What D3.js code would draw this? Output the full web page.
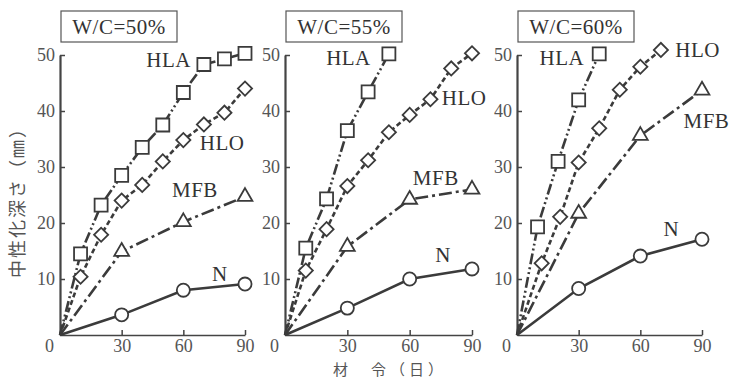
<!DOCTYPE html>
<html>
<head>
<meta charset="utf-8">
<script src="https://cdn.jsdelivr.net/npm/d3@7"></script>
<style>
  body { margin: 0; background: #fff; }
</style>
</head>
<body>
<div id="chart"></div>
<script>
// values: carbonation depth (mm) vs age (days)
var panelTitles = ["W/C=50%", "W/C=55%", "W/C=60%"];
var seriesNames = ["HLA", "HLO", "MFB", "N"];
var yTicks = [10, 20, 30, 40, 50];
var xTicks = [30, 60, 90];

var daysAll = [10, 20, 30, 40, 50, 60, 70, 80, 90];
var daysMonthly = [30, 60, 90];

// W/C = 50%
var hla50 = [14.5, 23.2, 28.5, 33.5, 37.5, 43.3, 48.3, 49.3, 50.3];
var hlo50 = [10.4, 17.9, 24.0, 26.8, 31.0, 34.8, 37.6, 39.7, 44.0];
var mfb50 = [14.9, 20.2, 24.7];
var n50 = [3.6, 8.0, 9.1];

// W/C = 55%
var hla55Days = [10, 20, 30, 40, 50];
var hla55 = [15.5, 24.3, 36.5, 43.4, 50.2];
var hlo55 = [11.5, 18.9, 26.6, 31.2, 36.2, 39.3, 42.1, 47.6, 50.3];
var mfb55 = [15.8, 24.2, 26.0];
var n55 = [4.8, 10.0, 11.8];

// W/C = 60%
var hla60Days = [10, 20, 30, 40];
var hla60 = [19.3, 31.0, 42.0, 50.2];
var hlo60Days = [12, 21, 30, 40, 50, 60, 70];
var hlo60 = [12.8, 21.1, 30.8, 36.9, 43.8, 47.9, 50.9];
var mfb60 = [21.7, 35.6, 43.7];
var n60 = [8.3, 14.1, 17.1];

var panelSeries = [
  [[daysAll, hla50], [daysAll, hlo50], [daysMonthly, mfb50], [daysMonthly, n50]],
  [[hla55Days, hla55], [daysAll, hlo55], [daysMonthly, mfb55], [daysMonthly, n55]],
  [[hla60Days, hla60], [hlo60Days, hlo60], [daysMonthly, mfb60], [daysMonthly, n60]]
];

// layout
var width = 730;
var height = 380;
var panelLeft = [60, 285, 517];
var panelWidth = [185, 187, 185];
var yTop = 55;
var yBottom = 335;

// label anchors (day, depth) for each series name, per panel
var labelAt = [
  [[42, 47.8], [68, 33], [54.5, 24.6], [74, 9.6]],
  [[19.8, 48.3], [75.5, 41], [61.5, 26.8], [72.3, 13.1]],
  [[11, 48.3], [77, 49.7], [81, 36.9], [71.3, 17.6]]
];

var ink = "#3b3b3b";
var serif = "Liberation Serif, DejaVu Serif, serif";
var cjk = "Noto Sans CJK JP, sans-serif";

var dashes = ["11,3,2,3,2,3", "5,3", "13,4,3,4", null];

var svg = d3
  .select("#chart")
  .append("svg")
  .attr("width", width)
  .attr("height", height);

var y = d3.scaleLinear().domain([0, 50]).range([yBottom, yTop]);

var markerSize = [169, 100, 95, 135];
function markerPath(i) {
  if (i === 0) return d3.symbol().type(d3.symbolSquare).size(markerSize[0])();
  if (i === 1) return d3.symbol().type(d3.symbolSquare).size(markerSize[1])();
  if (i === 2) return d3.symbol().type(d3.symbolTriangle).size(markerSize[2])();
  return d3.symbol().type(d3.symbolCircle).size(markerSize[3])();
}

panelTitles.forEach(function(title, p) {
  var x = d3
    .scaleLinear()
    .domain([0, 90])
    .range([panelLeft[p], panelLeft[p] + panelWidth[p]]);

  var g = svg.append("g").attr("class", "panel");

  // title box
  var tb = g.append("g").attr("transform", "translate(" + (panelLeft[p] + 1) + ",11)");
  tb.append("rect")
    .attr("width", 116)
    .attr("height", 31)
    .attr("fill", "none")
    .attr("stroke", "#555")
    .attr("stroke-width", 1.2);
  tb.append("text")
    .attr("x", 58)
    .attr("y", 23)
    .attr("text-anchor", "middle")
    .style("font-family", serif)
    .style("font-size", "21px")
    .attr("letter-spacing", 0.5)
    .attr("fill", "#333")
    .text(title);

  // axes
  var yAxis = g
    .append("g")
    .attr("transform", "translate(" + panelLeft[p] + ",0)")
    .call(d3.axisLeft(y).tickValues(yTicks).tickSizeInner(-5).tickSizeOuter(0).tickPadding(5));
  var xAxis = g
    .append("g")
    .attr("transform", "translate(0," + yBottom + ")")
    .call(d3.axisBottom(x).tickValues(xTicks).tickSizeInner(-5).tickSizeOuter(0).tickPadding(4));

  [yAxis, xAxis].forEach(function(a) {
    a.selectAll("text")
      .attr("fill", "#555")
      .style("font-family", serif)
      .style("font-size", "18px");
    a.selectAll("line").attr("stroke", "#444").attr("stroke-width", 1.5);
  });
  yAxis.select(".domain").attr("stroke", "#444").attr("stroke-width", 2.2);
  xAxis.select(".domain").attr("stroke", "#444").attr("stroke-width", 1.6);

  g.append("text")
    .attr("x", panelLeft[p] - 6)
    .attr("y", yBottom + 17)
    .attr("text-anchor", "end")
    .style("font-family", serif)
    .style("font-size", "18px")
    .attr("fill", "#555")
    .text("0");

  var line = d3
    .line()
    .x(function(d) { return x(d[0]); })
    .y(function(d) { return y(d[1]); });

  panelSeries[p].forEach(function(s, i) {
    var pts = [[0, 0]].concat(s[0].map(function(d, k) { return [d, s[1][k]]; }));

    g.append("path")
      .datum(pts)
      .attr("d", line)
      .attr("fill", "none")
      .attr("stroke", ink)
      .attr("stroke-width", 2.6)
      .attr("stroke-dasharray", dashes[i]);

    g.selectAll(".m" + i)
      .data(pts.slice(1))
      .enter()
      .append("path")
      .attr("class", "m" + i)
      .attr("d", markerPath(i))
      .attr("transform", function(d) {
        var t = "translate(" + x(d[0]) + "," + y(d[1]) + ")";
        return i === 1 ? t + " rotate(45)" : t;
      })
      .attr("fill", "#fff")
      .attr("stroke", ink)
      .attr("stroke-width", 1.8);

    g.append("text")
      .attr("x", x(labelAt[p][i][0]))
      .attr("y", y(labelAt[p][i][1]))
      .style("font-family", serif)
      .style("font-size", "21px")
      .attr("letter-spacing", 0.5)
      .attr("fill", "#333")
      .text(seriesNames[i]);
  });
});

// axis titles
svg.append("text")
  .attr("transform", "translate(24,198) rotate(-90)")
  .attr("text-anchor", "middle")
  .style("font-family", cjk)
  .style("font-size", "18px")
  .attr("letter-spacing", 2)
  .attr("fill", "#555")
  .text("中性化深さ（㎜）");

svg.append("text")
  .attr("x", 390)
  .attr("y", 375)
  .attr("text-anchor", "middle")
  .style("font-family", cjk)
  .style("font-size", "15px")
  .attr("letter-spacing", 4)
  .attr("fill", "#555")
  .text("材　令（日）");
</script>
</body>
</html>
